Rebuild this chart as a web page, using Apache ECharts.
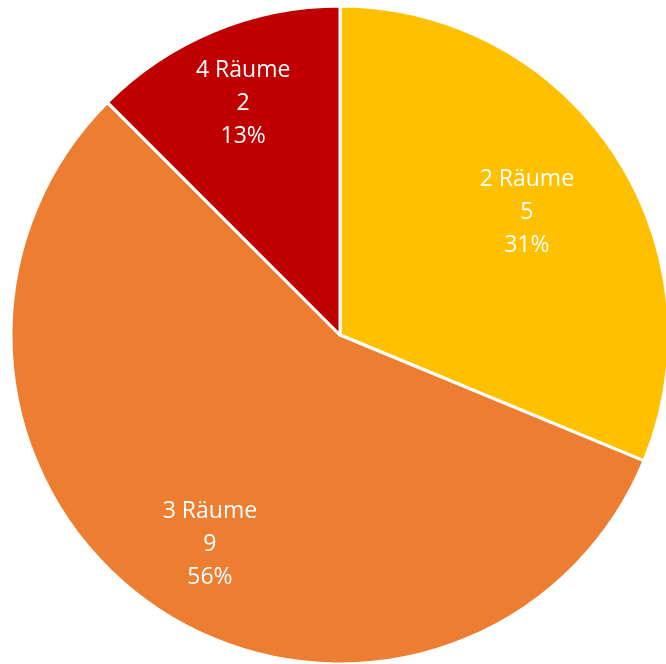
<!DOCTYPE html>
<html>
<head>
<meta charset="utf-8">
<style>
  html, body { margin: 0; padding: 0; background: #ffffff; }
  #chart { width: 666px; height: 664px; }
</style>
<script src="https://cdn.jsdelivr.net/npm/echarts@6/dist/echarts.min.js"></script>
</head>
<body>
<div id="chart"></div>
<script>
// Room counts per apartment size
const categories = ['2 Räume', '3 Räume', '4 Räume'];
const counts = [5, 9, 2];
const colors = ['#FFC000', '#ED7D31', '#C00000'];

// label placement: distance from the centre (fraction of radius) and a small angular nudge (degrees)
const labelRadius = [0.683, 0.743, 0.769];
const labelNudge = [0, -1.6, 0];

const total = counts.reduce((a, b) => a + b, 0);
const slices = categories.map((name, i) => ({
  name: name,
  value: counts[i],
  itemStyle: { color: colors[i] }
}));

const chart = echarts.init(document.getElementById('chart'), null, { renderer: 'canvas' });

const center = [340, 335];
const R = 329;

// bisector angle of slice i, clockwise from 12 o'clock, in radians
function midAngle(i) {
  let before = 0;
  for (let k = 0; k < i; k++) before += counts[k];
  return (before + counts[i] / 2) / total * Math.PI * 2;
}

chart.setOption({
  animation: false,
  series: [
    {
      type: 'pie',
      center: center,
      radius: [0, R],
      startAngle: 90,
      clockwise: true,
      data: slices,
      itemStyle: { borderColor: '#ffffff', borderWidth: 3 },
      label: {
        show: true,
        position: 'inside',
        color: '#ffffff',
        fontFamily: 'Open Sans',
        fontSize: 23,
        lineHeight: 33,
        formatter: p => p.name + '\n' + p.value + '\n' + Math.round(p.value / total * 100) + '%'
      },
      // place each label along its slice's bisector
      labelLayout: params => {
        const i = params.dataIndex;
        const a = midAngle(i) + labelNudge[i] * Math.PI / 180;
        const rr = R * labelRadius[i];
        return {
          x: center[0] + rr * Math.sin(a),
          y: center[1] + 2 - rr * Math.cos(a),
          align: 'center',
          verticalAlign: 'middle'
        };
      },
      labelLine: { show: false },
      silent: true
    }
  ]
});
</script>
</body>
</html>
